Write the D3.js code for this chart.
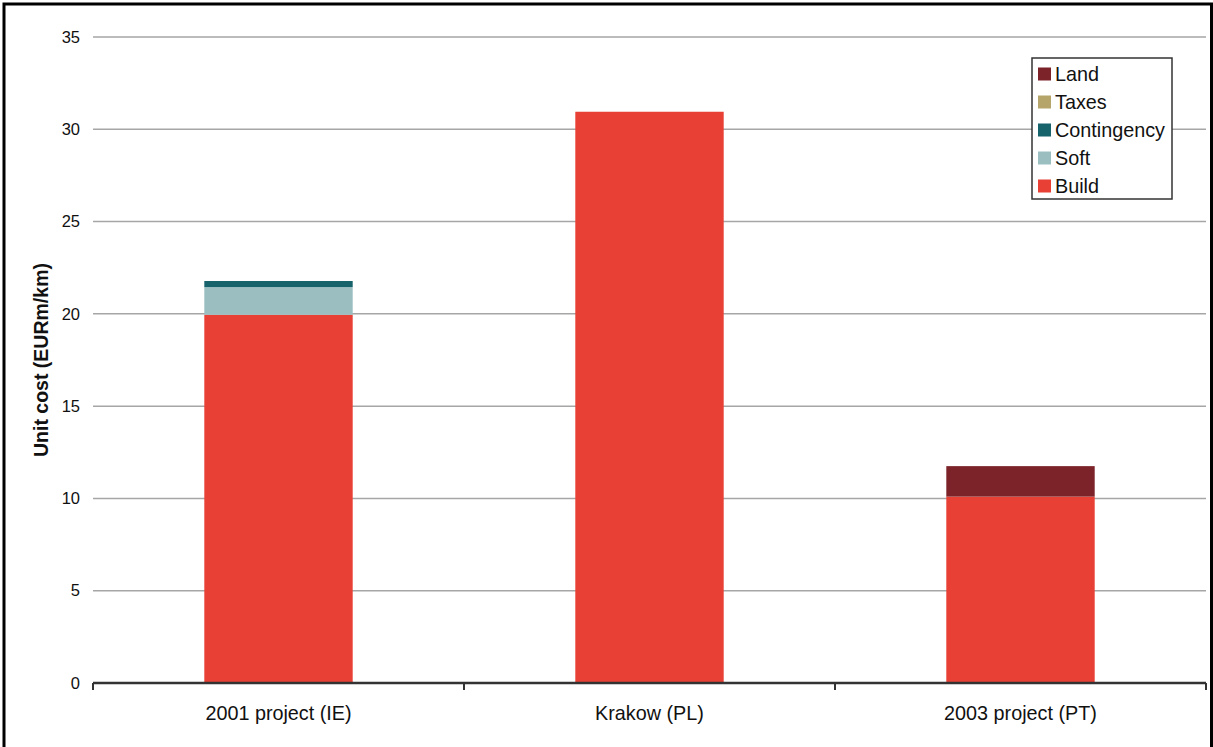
<!DOCTYPE html>
<html>
<head>
<meta charset="utf-8">
<script src="https://cdn.jsdelivr.net/npm/d3@7"></script>
<style>
  html, body { margin: 0; padding: 0; background: #fff; }
  svg { display: block; font-family: "Liberation Sans", Arial, sans-serif; }
</style>
</head>
<body>
<svg id="chart" width="1213" height="747"></svg>
<script>
// Unit cost breakdown per project (EURm/km)
const categories = ["2001 project (IE)", "Krakow (PL)", "2003 project (PT)"];
const seriesNames = ["Build", "Soft", "Contingency", "Taxes", "Land"];
const build       = [19.95, 30.95, 10.1];
const soft        = [1.5, 0, 0];
const contingency = [0.33, 0, 0];
const taxes       = [0, 0, 0];
const land        = [0, 0, 1.65];
const seriesColors = ["#e84035", "#9bbfc1", "#17636c", "#b5a56b", "#7b2329"];
const yTicks = [0, 5, 10, 15, 20, 25, 30, 35];
const yTitle = "Unit cost (EURm/km)";

const seriesValues = [build, soft, contingency, taxes, land];
const rows = categories.map((c, i) => {
  const r = { category: c };
  seriesNames.forEach((s, j) => { r[s] = seriesValues[j][i]; });
  return r;
});
const stacked = d3.stack().keys(seriesNames)(rows);

const svg = d3.select("#chart");
const W = 1213, H = 747;
const plot = { left: 93, right: 1206, top: 37, bottom: 683 };

// outer frame
svg.append("rect")
  .attr("x", 4).attr("y", 4)
  .attr("width", W - 5.5).attr("height", H + 10)
  .attr("fill", "none").attr("stroke", "#000").attr("stroke-width", 3);

const x = d3.scaleBand().domain(categories)
  .range([plot.left, plot.right]).paddingInner(0).paddingOuter(0);
const y = d3.scaleLinear().domain([0, 35]).range([plot.bottom, plot.top]);

// horizontal gridlines
svg.append("g").selectAll("line").data(yTicks.filter(t => t > 0)).join("line")
  .attr("x1", plot.left).attr("x2", plot.right)
  .attr("y1", d => y(d)).attr("y2", d => y(d))
  .attr("stroke", "#a6a6a6").attr("stroke-width", 1.5);

// y tick labels
svg.append("g").selectAll("text").data(yTicks).join("text")
  .attr("x", 80).attr("y", d => y(d))
  .attr("dy", "0.35em").attr("text-anchor", "end")
  .attr("font-size", 16.5).attr("fill", "#111")
  .text(d => d);

// y axis title
svg.append("text")
  .attr("transform", `translate(48, ${(plot.top + plot.bottom) / 2}) rotate(-90)`)
  .attr("text-anchor", "middle")
  .attr("font-size", 19.5).attr("font-weight", "bold").attr("fill", "#111")
  .text(yTitle);

// stacked bars
const barW = x.bandwidth() * 0.4;
svg.append("g").selectAll("g").data(stacked).join("g")
  .attr("fill", (d, i) => seriesColors[i])
  .selectAll("rect").data(d => d).join("rect")
  .attr("x", d => x(d.data.category) + (x.bandwidth() - barW) / 2)
  .attr("width", barW)
  .attr("y", d => y(d[1]))
  .attr("height", d => Math.max(0, y(d[0]) - y(d[1])));

// x axis
const xAxis = svg.append("g");
xAxis.append("line")
  .attr("x1", plot.left).attr("x2", plot.right)
  .attr("y1", plot.bottom).attr("y2", plot.bottom)
  .attr("stroke", "#333").attr("stroke-width", 2.5);
const tickPos = categories.map(c => x(c)).concat([x(categories[categories.length - 1]) + x.bandwidth()]);
xAxis.selectAll("line.tick").data(tickPos).join("line")
  .attr("class", "tick")
  .attr("x1", d => d).attr("x2", d => d)
  .attr("y1", plot.bottom).attr("y2", plot.bottom + 7)
  .attr("stroke", "#333").attr("stroke-width", 2);
xAxis.selectAll("text").data(categories).join("text")
  .attr("x", d => x(d) + x.bandwidth() / 2)
  .attr("y", 720)
  .attr("text-anchor", "middle")
  .attr("font-size", 19.8).attr("fill", "#111")
  .text(d => d);

// legend (top series first)
const legend = svg.append("g");
legend.append("rect")
  .attr("x", 1032).attr("y", 58).attr("width", 140).attr("height", 141)
  .attr("fill", "#fff").attr("stroke", "#333").attr("stroke-width", 1.5);
const legendItems = seriesNames.map((s, i) => ({ name: s, color: seriesColors[i] })).reverse();
const li = legend.selectAll("g.item").data(legendItems).join("g")
  .attr("class", "item")
  .attr("transform", (d, i) => `translate(1038, ${74 + i * 28})`);
li.append("rect")
  .attr("x", 0).attr("y", -6.5).attr("width", 13).attr("height", 13)
  .attr("fill", d => d.color);
li.append("text")
  .attr("x", 17).attr("y", 0).attr("dy", "0.35em")
  .attr("font-size", 19.8).attr("fill", "#111")
  .text(d => d.name);
</script>
</body>
</html>
